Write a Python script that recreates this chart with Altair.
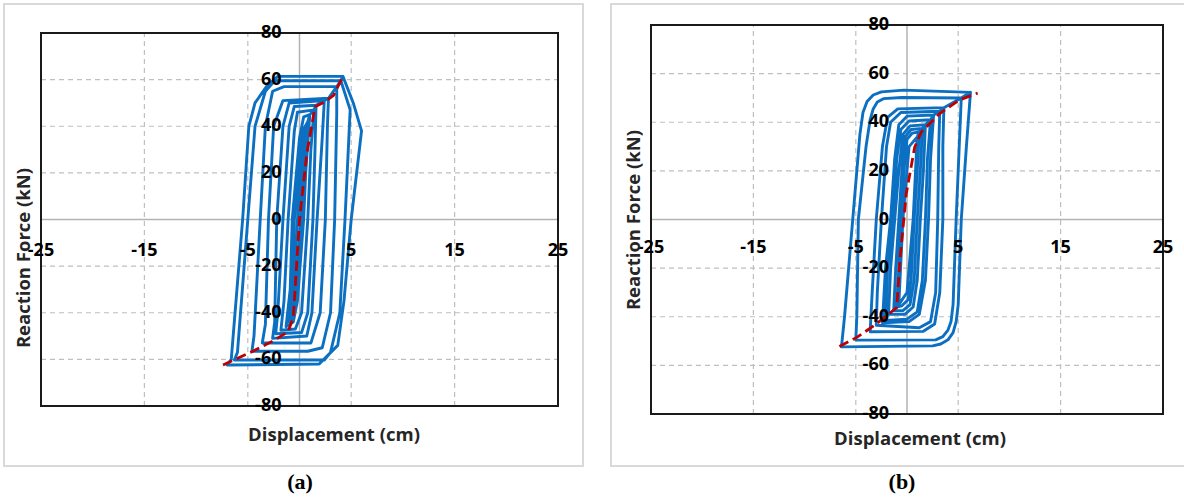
import altair as alt
import pandas as pd

# ---------------- data ----------------
x_ticks = [-25, -15, -5, 5, 15, 25]
y_ticks = [-80, -60, -40, -20, 0, 20, 40, 60, 80]
grid_x = [-15, -5, 5, 15]
grid_y = [-60, -40, -20, 20, 40, 60]

x_title = "Displacement (cm)"
y_title = "Reaction Force (kN)"

# Panel (a): hysteresis loops (displacement cm, force kN)
a_loop0 = [(0.6, 40), (0.1, 0), (-0.5, -40), (-0.8, -43), (-0.2, 0), (0.4, 36), (0.6, 40)]
a_loop1 = [(0.8, 42), (0.3, 0), (-0.4, -38), (-1.0, -44), (-0.5, 0), (0.3, 38), (0.8, 42)]
a_loop2 = [(1.0, 45), (0.6, 20), (0.4, 0), (-0.2, -35), (-0.6, -44), (-1.3, -46), (-0.9, -30),
           (-0.7, 0), (0.0, 35), (0.4, 44), (1.0, 45)]
a_loop3 = [(1.4, 47), (1.1, 30), (0.8, 0), (0.2, -40), (-0.4, -47), (-1.8, -47.5), (-1.5, -35),
           (-1.1, 0), (-0.5, 38), (-0.2, 46), (1.4, 47)]
a_loop4 = [(1.6, 49), (1.5, 30), (1.3, 0), (0.8, -40), (0.2, -48.5), (-2.3, -49), (-2.1, -40),
           (-1.6, 0), (-1.0, 40), (-0.5, 48.5), (1.6, 49)]
a_loop5 = [(2.4, 51), (2.2, 35), (1.7, 0), (1.2, -40), (0.7, -50), (-2.6, -51), (-2.4, -44),
           (-2.2, 0), (-1.6, 40), (-1.0, 50), (2.4, 51)]
a_loop6 = [(2.8, 52), (2.7, 40), (2.5, 0), (2.0, -40), (1.1, -53), (-3.6, -53), (-3.3, -45),
           (-3.0, 0), (-2.5, 40), (-1.6, 51), (2.8, 52)]
a_loop7 = [(3.6, 57), (3.6, 45), (3.4, 0), (3.0, -40), (2.2, -55), (0.8, -56.5), (-4.6, -56.5),
           (-4.4, -50), (-3.8, 0), (-3.3, 40), (-2.6, 55), (-1.5, 57), (3.6, 57)]
a_loop8 = [(4.0, 59.5), (4.9, 47), (4.4, 0), (3.9, -40), (3.0, -57), (2.4, -60.3), (-6.3, -60.3),
           (-6.0, -57), (-5.0, 0), (-4.3, 40), (-3.3, 55), (-2.4, 59.5), (4.0, 59.5)]
a_loop9 = [(4.2, 61.4), (5.2, 50), (6.0, 38), (5.0, 0), (4.3, -35), (3.7, -54), (1.9, -62),
           (-7.0, -62.4), (-6.6, -60), (-5.5, 0), (-4.9, 40), (-4.3, 50), (-3.2, 57), (-2.1, 61.4),
           (4.2, 61.4)]
a_loops = [a_loop0, a_loop1, a_loop2, a_loop3, a_loop4, a_loop5, a_loop6, a_loop7, a_loop8, a_loop9]

a_backbone_x = [-7.4, -4.6, -2.4, -1.1, -0.6, 0.0, 0.7, 1.5, 2.5, 3.3, 4.2]
a_backbone_y = [-62.4, -56.7, -51.7, -48.1, -42, 0, 28, 48.4, 50.6, 53.3, 61.4]

# Panel (b)
b_loop0 = [(1.0, 34), (0.6, 0), (0.0, -30), (-0.8, -35), (-0.4, 0), (0.2, 30), (1.0, 34)]
b_loop1 = [(1.2, 36), (1.0, 20), (0.7, 0), (0.4, -25), (0.1, -33), (-0.5, -35.5), (-1.0, -36),
           (-0.8, -20), (-0.6, 0), (-0.3, 20), (0.0, 33), (0.5, 35.5), (1.2, 36)]
b_loop2 = [(1.5, 37.5), (1.3, 20), (1.0, 0), (0.7, -25), (0.3, -35), (-0.4, -37.5), (-1.3, -37.5),
           (-1.1, -20), (-0.8, 0), (-0.5, 20), (-0.2, 34), (0.4, 37), (1.5, 37.5)]
b_loop3 = [(1.8, 39), (1.6, 20), (1.3, 0), (1.0, -25), (0.6, -36), (-0.2, -39), (-1.8, -39),
           (-1.6, -20), (-1.2, 0), (-0.8, 20), (-0.4, 35), (0.3, 38.5), (1.8, 39)]
b_loop4 = [(2.3, 41), (2.0, 25), (1.8, 0), (1.5, -25), (1.0, -38), (0.0, -41), (-2.1, -41.5),
           (-1.9, -20), (-1.4, 0), (-1.0, 25), (-0.6, 37), (0.2, 40.5), (2.3, 41)]
b_loop5 = [(2.6, 43), (2.3, 25), (2.1, 0), (1.8, -25), (1.2, -39), (0.2, -42), (-2.4, -42.5),
           (-2.1, -20), (-1.6, 0), (-1.2, 25), (-0.8, 39), (0.0, 42.5), (2.6, 43)]
b_loop6 = [(3.2, 44.5), (3.1, 30), (3.0, 0), (2.8, -30), (2.3, -42), (1.2, -44.5), (-3.0, -43.5),
           (-2.9, -30), (-2.5, 0), (-2.0, 30), (-1.6, 40), (-0.6, 44), (3.2, 44.5)]
b_loop7 = [(3.6, 46), (3.5, 30), (3.5, 0), (3.2, -30), (2.7, -43), (1.6, -46), (-3.6, -46.2),
           (-3.4, -30), (-3.0, 0), (-2.4, 30), (-1.9, 42), (-0.9, 45.5), (3.6, 46)]
b_loop8 = [(5.3, 50), (5.1, 30), (4.8, 0), (4.5, -35), (4.3, -42), (4.0, -45.5), (3.5, -48.2),
           (2.8, -49.5), (-5.0, -49.6), (-4.9, -40), (-4.75, 0), (-4.0, 30), (-3.6, 41),
           (-3.3, 45.5), (-2.9, 48.3), (-2.3, 49.7), (-0.5, 50.2), (5.3, 50)]
b_loop9 = [(6.2, 52.3), (5.8, 30), (5.3, 0), (5.0, -35), (4.8, -42), (4.5, -46.5), (4.0, -49.5),
           (3.3, -51.2), (2.5, -52), (-6.4, -52.4), (-6.1, -40), (-5.3, 0), (-4.6, 35), (-4.3, 44),
           (-3.9, 48.5), (-3.3, 51.2), (-2.5, 52.5), (-0.3, 53.2), (6.2, 52.3)]
b_loops = [b_loop0, b_loop1, b_loop2, b_loop3, b_loop4, b_loop5, b_loop6, b_loop7, b_loop8, b_loop9]

b_backbone_x = [-6.6, -4.95, -3.0, -1.0, -0.7, -0.07, 0.75, 1.4, 3.2, 5.1, 6.9]
b_backbone_y = [-52.2, -48.6, -43, -36.2, -17, 10.6, 29.8, 36, 43.6, 49.1, 52]

FONT = "Open Sans"
BLUE = "#0b6fc2"
RED = "#c00000"
GRID = "#bfbfbf"


def loops_frame(loops):
    rows = []
    k = 0
    for loop in loops:
        for (x, y) in loop:
            rows.append({"x": x, "y": y, "o": k})
            k += 1
    return pd.DataFrame(rows)


def panel(loops, bbx, bby, xr, yr, frame, xlab_dy, xt_pos, yt_pos, tag, tag_pos):
    xs = alt.Scale(domain=[-25, 25], range=xr, nice=False, zero=False)
    ys = alt.Scale(domain=[-80, 80], range=yr, nice=False, zero=False)
    X = lambda f: alt.X(f, type="quantitative", scale=xs, axis=None)
    Y = lambda f: alt.Y(f, type="quantitative", scale=ys, axis=None)

    one = pd.DataFrame({"k": [0]})
    outer = alt.Chart(one).mark_rect(fillOpacity=0, stroke="#d9d9d9", strokeWidth=2).encode(
        x=alt.value(frame[0]), x2=alt.value(frame[1]),
        y=alt.value(frame[2]), y2=alt.value(frame[3]))

    vg = pd.DataFrame({"x": grid_x, "y": [-80] * len(grid_x), "y2": [80] * len(grid_x)})
    hg = pd.DataFrame({"y": grid_y, "x": [-25] * len(grid_y), "x2": [25] * len(grid_y)})
    vgrid = alt.Chart(vg).mark_rule(color=GRID, strokeDash=[5, 4], strokeWidth=1.2).encode(
        x=X("x"), y=Y("y"), y2="y2")
    hgrid = alt.Chart(hg).mark_rule(color=GRID, strokeDash=[5, 4], strokeWidth=1.2).encode(
        y=Y("y"), x=X("x"), x2="x2")
    zv = alt.Chart(pd.DataFrame({"x": [0], "y": [-80], "y2": [80]})).mark_rule(
        color="#b3b3b3", strokeWidth=1.5).encode(x=X("x"), y=Y("y"), y2="y2")
    zh = alt.Chart(pd.DataFrame({"y": [0], "x": [-25], "x2": [25]})).mark_rule(
        color="#b3b3b3", strokeWidth=1.5).encode(y=Y("y"), x=X("x"), x2="x2")

    lines = alt.Chart(loops_frame(loops)).mark_line(
        color=BLUE, strokeWidth=2.9, strokeJoin="round").encode(
        x=X("x"), y=Y("y"), order="o:Q")
    bb = pd.DataFrame({"x": bbx, "y": bby, "o": list(range(len(bbx)))})
    backbone = alt.Chart(bb).mark_line(color=RED, strokeWidth=2.8, strokeDash=[10, 5]).encode(
        x=X("x"), y=Y("y"), order="o:Q")

    box = alt.Chart(pd.DataFrame({"x": [-25], "x2": [25], "y": [-80], "y2": [80]})).mark_rect(
        fillOpacity=0, stroke="#1a1a1a", strokeWidth=2).encode(
        x=X("x"), x2="x2", y=Y("y"), y2="y2")

    yl = pd.DataFrame({"x": [0] * len(y_ticks), "y": y_ticks, "t": [str(v) for v in y_ticks]})
    ylabels = alt.Chart(yl).mark_text(align="right", baseline="middle", dx=-18, font=FONT,
                                      fontWeight="bold", fontSize=18, color="#000000").encode(
        x=X("x"), y=Y("y"), text="t:N")
    xl = pd.DataFrame({"x": x_ticks, "y": [0] * len(x_ticks), "t": [str(v) for v in x_ticks]})
    xlabels = alt.Chart(xl).mark_text(align="center", baseline="middle", dy=xlab_dy, font=FONT,
                                      fontWeight="bold", fontSize=18, color="#000000").encode(
        x=X("x"), y=Y("y"), text="t:N")

    xt = alt.Chart(pd.DataFrame({"t": [x_title]})).mark_text(
        align="center", baseline="middle", font=FONT, fontWeight="bold", fontSize=18.5,
        color="#262626").encode(x=alt.value(xt_pos[0]), y=alt.value(xt_pos[1]), text="t:N")
    yt = alt.Chart(pd.DataFrame({"t": [y_title]})).mark_text(
        align="center", baseline="middle", angle=270, font=FONT, fontWeight="bold", fontSize=18.5,
        color="#262626").encode(x=alt.value(yt_pos[0]), y=alt.value(yt_pos[1]), text="t:N")
    tg = alt.Chart(pd.DataFrame({"t": [tag]})).mark_text(
        align="center", baseline="middle", font="Liberation Serif", fontWeight="bold",
        fontSize=22, color="#000000").encode(
        x=alt.value(tag_pos[0]), y=alt.value(tag_pos[1]), text="t:N")

    return alt.layer(outer, vgrid, hgrid, zv, zh, lines, backbone, box,
                     ylabels, xlabels, xt, yt, tg)


pa = panel(a_loops, a_backbone_x, a_backbone_y, [41, 558], [406, 33], (4, 583, 4, 466),
           31.5, (334, 435), (24, 258), "(a)", (300, 482))
pb = panel(b_loops, b_backbone_x, b_backbone_y, [651, 1163], [414, 25], (611, 1190, 4, 466),
           28.5, (920, 439), (634, 220), "(b)", (902, 482))

chart = alt.layer(pa, pb).resolve_scale(x="independent", y="independent").properties(
    width=1184, height=499, padding=0,
    autosize=alt.AutoSizeParams(type="none"),
    background="white",
).configure_view(stroke=None)

chart.save("out.html", embed_options={"renderer": "svg", "actions": False})
